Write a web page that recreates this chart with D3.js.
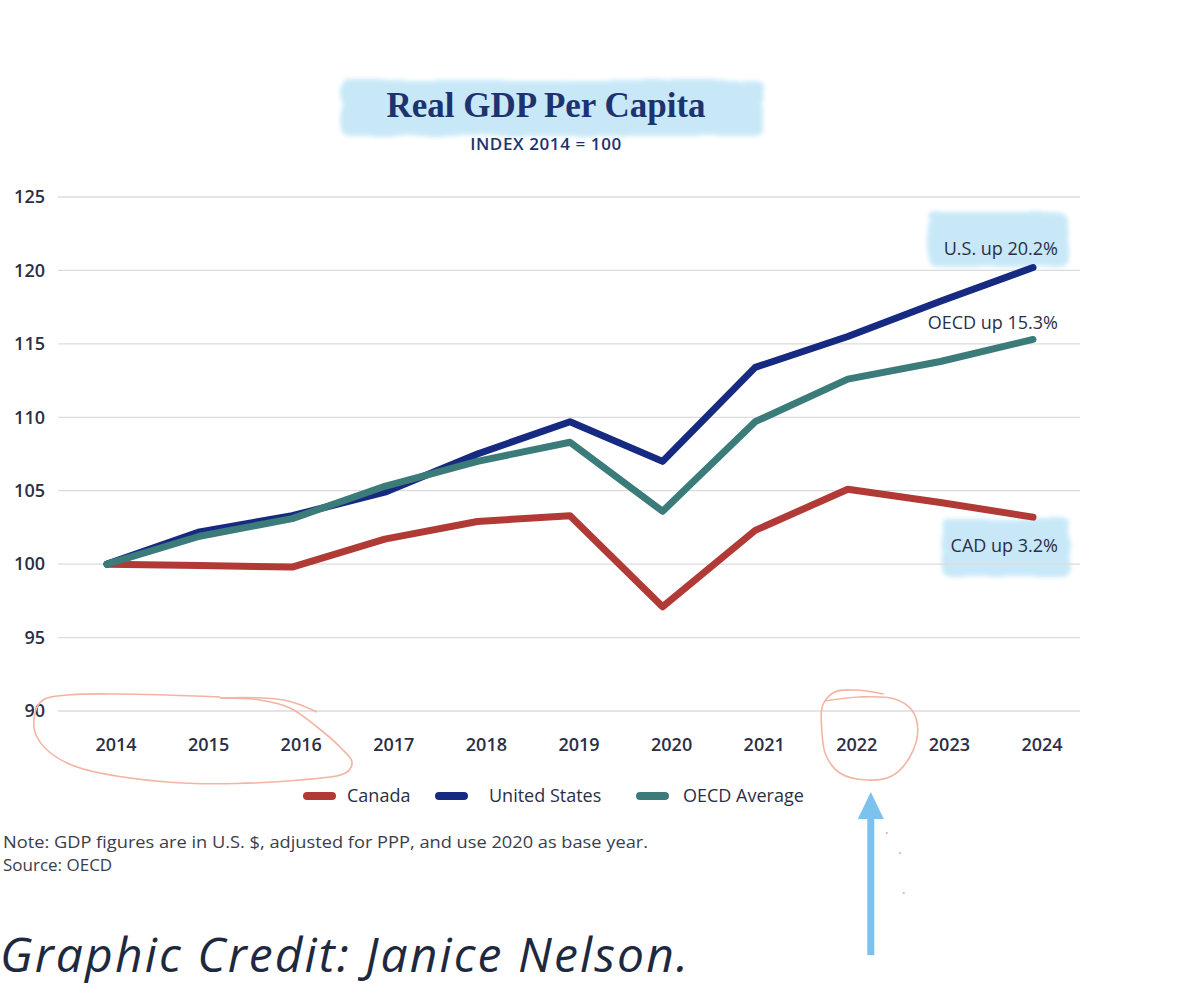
<!DOCTYPE html>
<html>
<head>
<meta charset="utf-8">
<script src="https://cdn.jsdelivr.net/npm/d3@7"></script>
<style>
  body { margin: 0; background: #fff; }
  svg { display: block; }
</style>
</head>
<body>
<div id="chart"></div>
<script>
const years = [2014, 2015, 2016, 2017, 2018, 2019, 2020, 2021, 2022, 2023, 2024]
const canada = [100, 99.9, 99.8, 101.7, 102.9, 103.3, 97.1, 102.3, 105.1, 104.2, 103.2]
const unitedStates = [100, 102.2, 103.3, 104.9, 107.5, 109.7, 107.0, 113.4, 115.5, 117.9, 120.2]
const oecdAverage = [100, 101.9, 103.1, 105.3, 107.0, 108.3, 103.6, 109.7, 112.6, 113.8, 115.3]
const seriesNames = ['Canada', 'United States', 'OECD Average']
const yTicks = [90, 95, 100, 105, 110, 115, 120, 125]
const endLabels = ['CAD up 3.2%', 'U.S. up 20.2%', 'OECD up 15.3%']

const width = 1179
const height = 997
const ink = '#2b2f45'
const colors = d3.scaleOrdinal()
    .domain(seriesNames)
    .range(['#b23a36', '#172a82', '#3b7b79'])

const series = [canada, unitedStates, oecdAverage].map((vals, i) => ({
    name: seriesNames[i],
    label: endLabels[i],
    values: vals.map((v, j) => ({ year: years[j], value: v }))
}))

const x = d3.scaleLinear().domain([2014, 2024]).range([107, 1033])
const y = d3.scaleLinear().domain([90, 125]).range([711, 197])
const labelShift = 9

const svg = d3.select('#chart').append('svg')
    .attr('width', width)
    .attr('height', height)
    .style('font-family', '"Open Sans", sans-serif')

// soft highlighter look
const defs = svg.append('defs')
const rough = defs.append('filter').attr('id', 'brush')
    .attr('x', '-10%').attr('y', '-30%').attr('width', '120%').attr('height', '160%')
rough.append('feTurbulence').attr('type', 'fractalNoise').attr('baseFrequency', '0.02 0.08')
    .attr('numOctaves', 2).attr('seed', 5).attr('result', 'noise')
rough.append('feDisplacementMap').attr('in', 'SourceGraphic').attr('in2', 'noise')
    .attr('scale', 6).attr('xChannelSelector', 'R').attr('yChannelSelector', 'G').attr('result', 'd')
rough.append('feGaussianBlur').attr('in', 'd').attr('stdDeviation', 2.2)

const hl = '#bfe5f7'
function highlight(x0, y0, w, h) {
    svg.append('rect')
        .attr('x', x0).attr('y', y0).attr('width', w).attr('height', h)
        .attr('rx', 8)
        .attr('fill', hl)
        .attr('opacity', 0.85)
        .attr('filter', 'url(#brush)')
}

// title
highlight(341, 80, 422, 56)
svg.append('text')
    .attr('x', 546).attr('y', 117)
    .attr('text-anchor', 'middle')
    .attr('font-family', '"Liberation Serif", serif')
    .attr('font-weight', 700)
    .attr('font-size', 35)
    .attr('fill', '#1d3370')
    .text('Real GDP Per Capita')
svg.append('text')
    .attr('x', 546).attr('y', 150)
    .attr('text-anchor', 'middle')
    .attr('font-weight', 600)
    .attr('font-size', 17)
    .attr('letter-spacing', 0.6)
    .attr('fill', '#1d3370')
    .text('INDEX 2014 = 100')

// end-label highlights
highlight(928, 212, 140, 55)
highlight(942, 519, 128, 58)

// grid + y ticks
const grid = svg.append('g')
grid.selectAll('line')
    .data(yTicks)
    .join('line')
    .attr('x1', 58).attr('x2', 1080)
    .attr('y1', d => y(d)).attr('y2', d => y(d))
    .attr('stroke', '#dcdcdc')
    .attr('stroke-width', 1.3)
grid.selectAll('text')
    .data(yTicks)
    .join('text')
    .attr('x', 45)
    .attr('y', d => y(d))
    .attr('dy', '0.35em')
    .attr('text-anchor', 'end')
    .attr('font-size', 18)
    .attr('font-weight', 600)
    .attr('fill', ink)
    .text(d => d)

// x labels
svg.append('g').selectAll('text')
    .data(years)
    .join('text')
    .attr('x', d => x(d) + labelShift)
    .attr('y', 751)
    .attr('text-anchor', 'middle')
    .attr('font-size', 18)
    .attr('font-weight', 600)
    .attr('fill', ink)
    .text(d => d)

// lines
const line = d3.line()
    .x(d => x(d.year))
    .y(d => y(d.value))

svg.append('g').selectAll('path')
    .data(series)
    .join('path')
    .attr('d', d => line(d.values))
    .attr('fill', 'none')
    .attr('stroke', d => colors(d.name))
    .attr('stroke-width', 7)
    .attr('stroke-linejoin', 'round')
    .attr('stroke-linecap', 'round')

// end labels
const labelOffsets = { 'Canada': 29, 'United States': -19, 'OECD Average': -17 }
svg.append('g').selectAll('text')
    .data(series)
    .join('text')
    .attr('x', 1058)
    .attr('y', d => y(d.values[d.values.length - 1].value) + labelOffsets[d.name])
    .attr('dy', '0.35em')
    .attr('text-anchor', 'end')
    .attr('font-size', 18)
    .attr('fill', ink)
    .text(d => d.label)

// legend
const legendX = [304, 436, 637]
const legend = svg.append('g').attr('transform', 'translate(0, 796)')
const item = legend.selectAll('g')
    .data(seriesNames)
    .join('g')
    .attr('transform', (d, i) => `translate(${legendX[i]}, 0)`)
item.append('line')
    .attr('x1', 3).attr('x2', 28)
    .attr('stroke', d => colors(d))
    .attr('stroke-width', 8)
    .attr('stroke-linecap', 'round')
item.append('text')
    .attr('x', (d, i) => [43, 53, 46][i])
    .attr('dy', '0.35em')
    .attr('font-size', 18)
    .attr('fill', ink)
    .text(d => d)

// notes
svg.append('text')
    .attr('x', 3).attr('y', 848)
    .attr('font-size', 17)
    .attr('textLength', 645)
    .attr('lengthAdjust', 'spacingAndGlyphs')
    .attr('fill', '#3a3d4a')
    .text('Note: GDP figures are in U.S. $, adjusted for PPP, and use 2020 as base year.')
svg.append('text')
    .attr('x', 3).attr('y', 871)
    .attr('font-size', 17)
    .attr('fill', '#3a3d4a')
    .text('Source: OECD')

svg.append('text')
    .attr('x', 0).attr('y', 972)
    .attr('font-style', 'italic')
    .attr('font-size', 48)
    .attr('textLength', 688)
    .attr('lengthAdjust', 'spacing')
    .attr('fill', '#1e2940')
    .text('Graphic Credit: Janice Nelson.')

// hand-drawn circles around ticks (offsets from the tick labels)
const pen = '#f4b4a4'
const scribble = d3.line().curve(d3.curveCatmullRom.alpha(0.5))
const base = y(90)
const x14 = x(2014) + labelShift, x22 = x(2022) + labelShift
const loopA = [[104, -14], [4, -17], [-49, -16], [-73, -11], [-81, 2], [-79, 26], [-49, 52],
    [51, 71], [184, 69], [231, 61], [236, 51], [224, 36], [201, 16], [174, -3], [144, -11], [104, -13]]
const tailA = [[104, -13], [168, -11], [201, 1]]
const loopB = [[27, -17], [-2, -21], [-22, -19], [-34, -6], [-35, 19], [-31, 44], [-17, 62],
    [10, 69], [35, 65], [53, 46], [61, 19], [55, -1], [38, -12], [3, -14], [-32, -10]]
const stroke = (pts, ox) => svg.append('path')
    .attr('d', scribble(pts.map(p => [ox + p[0], base + p[1]])))
    .attr('fill', 'none')
    .attr('stroke', pen)
    .attr('stroke-width', 1.6)
stroke(loopA, x14)
stroke(tailA, x14)
stroke(loopB, x22)

// stray dots
svg.append('g').selectAll('circle')
    .data([[30, 122], [43, 142], [47, 182]])
    .join('circle')
    .attr('cx', d => x22 + d[0]).attr('cy', d => base + d[1])
    .attr('r', 1)
    .attr('fill', '#f2a090')

// blue arrow
const arrowX = x22 + 14
svg.append('line')
    .attr('x1', arrowX).attr('x2', arrowX)
    .attr('y1', 955).attr('y2', 815)
    .attr('stroke', '#7cc2ef')
    .attr('stroke-width', 7)
svg.append('path')
    .attr('d', d3.line()([[arrowX, 792], [arrowX + 13, 819], [arrowX - 13, 819]]) + 'Z')
    .attr('fill', '#7cc2ef')
</script>
</body>
</html>
